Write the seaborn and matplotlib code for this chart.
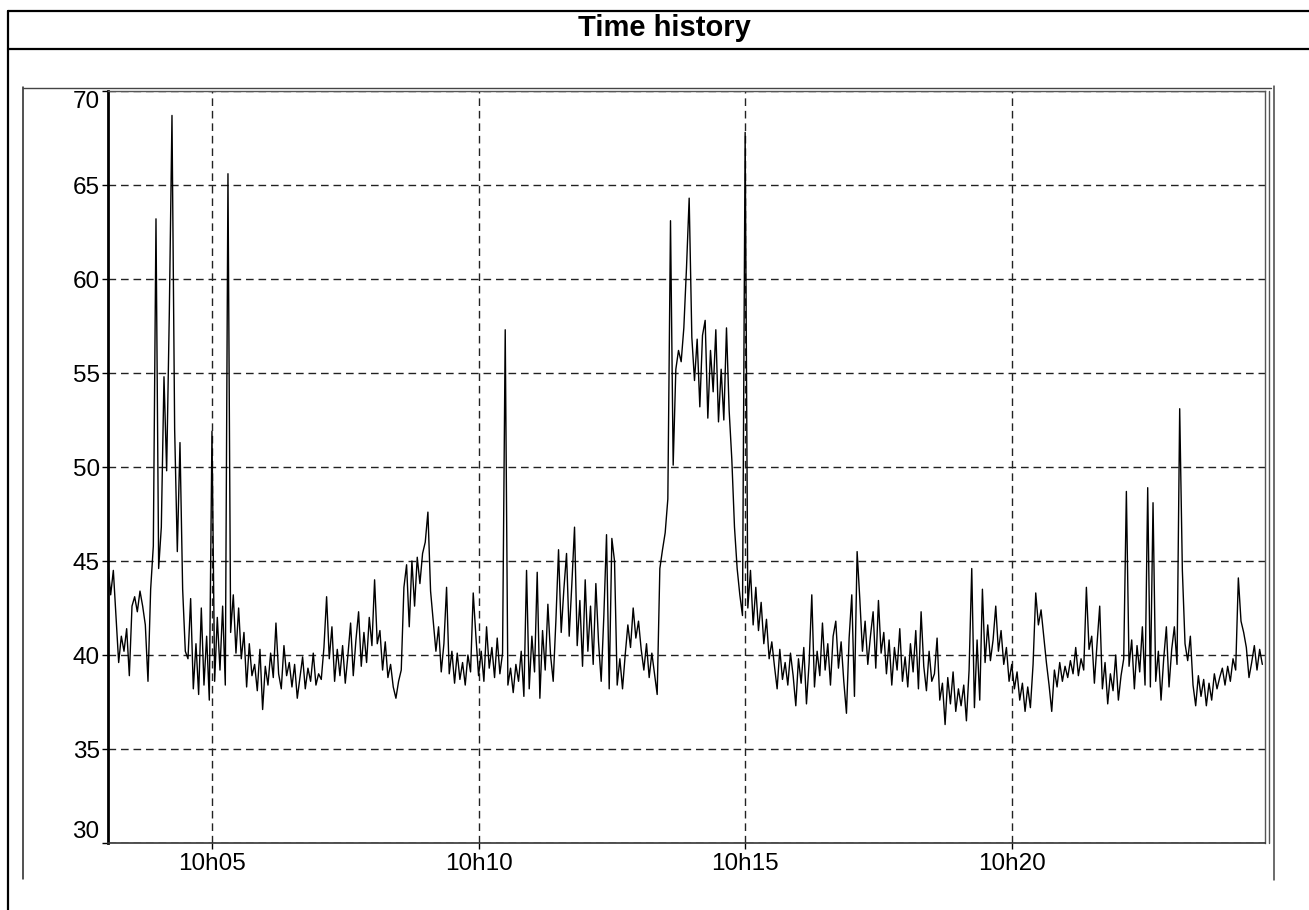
import numpy as np
import pandas as pd
import matplotlib
matplotlib.use('Agg')
import matplotlib.pyplot as plt
import matplotlib.dates as mdates
from matplotlib.lines import Line2D
import seaborn as sns

# levels: one value every 3 s, one row = 30 s
start = '2024-01-01 10:03:03'
step = '3s'
levels = [
    44.8, 43.2, 44.5, 42.1, 39.6, 41.0, 40.2, 41.4, 38.9, 42.6,
    43.1, 42.3, 43.4, 42.6, 41.6, 38.6, 43.5, 45.8, 63.2, 44.6,
    46.8, 54.8, 49.8, 58.2, 68.7, 52.0, 45.5, 51.3, 43.5, 40.2,
    39.8, 43.0, 38.2, 40.6, 37.9, 42.5, 38.4, 41.0, 37.6, 51.9,
    38.6, 42.0, 39.2, 42.6, 38.4, 65.6, 41.2, 43.2, 40.1, 42.5,
    39.8, 41.2, 38.3, 40.6, 38.9, 39.5, 38.1, 40.3, 37.1, 39.4,
    38.4, 40.1, 38.8, 41.7, 39.0, 38.2, 40.5, 38.9, 39.6, 38.3,
    39.5, 37.7, 38.8, 39.9, 38.2, 39.3, 38.6, 40.1, 38.4, 39.0,
    38.7, 40.4, 43.1, 39.8, 41.5, 38.6, 40.3, 38.9, 40.5, 38.5,
    40.0, 41.7, 38.9, 40.8, 42.3, 39.4, 41.2, 39.6, 42.0, 40.5,
    44.0, 40.6, 41.3, 39.2, 40.7, 38.8, 39.5, 38.3, 37.7, 38.6,
    39.2, 43.6, 44.8, 41.5, 45.0, 42.6, 45.2, 43.8, 45.4, 46.0,
    47.6, 43.4, 41.8, 40.2, 41.5, 39.1, 40.6, 43.6, 39.0, 40.2,
    38.5, 40.1, 38.7, 39.6, 38.4, 40.0, 39.1, 43.3, 41.0, 38.9,
    40.2, 38.6, 41.5, 39.3, 40.4, 38.8, 40.9, 39.0, 40.1, 57.3,
    38.4, 39.3, 38.0, 39.5, 38.6, 40.2, 37.8, 44.5, 38.2, 41.0,
    39.1, 44.4, 37.7, 41.3, 39.2, 42.7, 40.0, 38.6, 41.8, 45.6,
    41.2, 43.5, 45.4, 41.0, 43.8, 46.8, 40.5, 42.9, 39.4, 44.0,
    40.2, 42.6, 39.5, 43.8, 40.7, 38.6, 42.1, 46.4, 38.2, 46.2,
    45.0, 38.4, 39.8, 38.2, 40.0, 41.6, 40.4, 42.5, 40.9, 41.8,
    40.3, 39.2, 40.6, 38.8, 40.1, 39.0, 37.9, 44.6, 45.6, 46.5,
    48.3, 63.1, 50.1, 55.2, 56.2, 55.6, 57.4, 60.6, 64.3, 56.9,
    54.6, 56.8, 53.2, 57.0, 57.8, 52.6, 56.2, 54.0, 57.3, 52.4,
    55.2, 52.5, 57.4, 53.0, 50.4, 46.8, 44.6, 43.2, 42.1, 67.8,
    42.5, 44.5, 41.6, 43.6, 41.3, 42.8, 40.6, 41.9, 39.8, 40.7,
    39.4, 38.2, 40.3, 38.7, 39.6, 38.4, 40.1, 38.9, 37.3, 39.8,
    38.5, 40.4, 37.4, 39.6, 43.2, 38.3, 40.2, 38.9, 41.7, 39.2,
    40.6, 38.4, 41.0, 41.8, 39.3, 40.7, 38.6, 36.9, 40.9, 43.2,
    37.8, 45.5, 43.0, 40.2, 41.8, 39.5, 41.0, 42.3, 39.3, 42.9,
    40.1, 41.2, 39.0, 40.8, 38.4, 40.4, 39.2, 41.4, 38.6, 39.9,
    38.3, 40.6, 39.1, 41.3, 38.2, 42.3, 39.4, 38.1, 40.2, 38.6,
    39.0, 40.9, 37.6, 38.5, 36.3, 38.8, 37.4, 39.1, 37.0, 38.2,
    37.3, 38.4, 36.5, 39.2, 44.6, 37.2, 40.8, 37.6, 43.5, 39.6,
    41.6, 39.7, 40.8, 42.6, 40.2, 41.3, 39.5, 40.4, 38.6, 39.5,
    38.2, 39.1, 37.6, 38.5, 37.0, 38.3, 37.2, 39.5, 43.3, 41.6,
    42.4, 41.0, 39.6, 38.4, 37.0, 39.2, 38.3, 39.6, 38.6, 39.4,
    38.8, 39.7, 39.0, 40.4, 38.9, 39.8, 39.2, 43.6, 40.3, 41.0,
    38.5, 40.6, 42.6, 38.2, 39.6, 37.4, 39.0, 38.1, 40.0, 37.6,
    38.9, 39.8, 48.7, 39.4, 40.8, 38.2, 40.5, 39.1, 41.5, 38.4,
    48.9, 38.3, 48.1, 38.6, 40.2, 37.6, 39.8, 41.5, 38.3, 40.3,
    41.5, 39.5, 53.1, 44.5, 40.6, 39.7, 41.0, 38.4, 37.3, 38.9,
    37.8, 38.7, 37.3, 38.5, 37.6, 39.0, 38.2, 38.8, 39.3, 38.4,
    39.4, 38.6, 39.8, 39.2, 44.1, 41.8, 41.2, 40.4, 38.8, 39.6,
    40.5, 39.2, 40.3, 39.5,
]
y_ticks = [30, 35, 40, 45, 50, 55, 60, 65, 70]
x_ticks = ['10:05', '10:10', '10:15', '10:20']
x_range = ['10:03:03', '10:24:45']
title = 'Time history'

times = pd.date_range(start, periods=len(levels), freq=step)
df = pd.DataFrame({'time': times, 'level': levels})

sns.set_style('white')
plt.rcParams['font.family'] = ['Liberation Sans', 'DejaVu Sans']
plt.rcParams['text.color'] = 'black'

W, H = 1309, 910
fig = plt.figure(figsize=(W / 100, H / 100), dpi=100)


def fline(xs, ys, lw=1.5, color='black'):
    # draw a line in figure pixel coords (y from top)
    fig.add_artist(Line2D([x / W for x in xs], [1 - y / H for y in ys],
                          transform=fig.transFigure, color=color, lw=lw))


# outer frame and header
fline([8, W], [11, 11], lw=1.6)
fline([8, 8], [11, H], lw=1.6)
fline([8, W], [49, 49], lw=1.6)
fig.text(664 / W, 1 - 36 / H, title, ha='center', va='baseline',
         fontsize=21, fontweight='bold', color='black')

# inner box around the plot
fline([23, 23], [87, 879], lw=1.1, color='#222222')
fline([23, 1271], [87.5, 87.5], lw=1.0, color='#444444')
fline([1273.5, 1273.5], [86, 880], lw=1.1, color='#444444')
fline([1268.5, 1268.5], [91, 843], lw=1.0, color='#555555')

ax = fig.add_axes([108 / W, 1 - 843 / H, (1265 - 108) / W, (843 - 91) / H])
sns.lineplot(data=df, x='time', y='level', ax=ax, color='black',
             linewidth=1.0, estimator=None)

day = start.split(' ')[0]
ax.set_xlim(pd.Timestamp(day + ' ' + x_range[0]), pd.Timestamp(day + ' ' + x_range[1]))
ax.set_ylim(y_ticks[0], y_ticks[-1])
ax.set_xticks([pd.Timestamp(day + ' ' + t) for t in x_ticks])
ax.set_yticks(y_ticks)
ax.xaxis.set_major_formatter(mdates.DateFormatter('%Hh%M'))
ax.set_xlabel('')
ax.set_ylabel('')

ax.grid(True, linestyle=(0, (5.5, 3.5)), color='#222222', linewidth=1.0)
ax.set_axisbelow(True)

ax.tick_params(axis='both', which='major', labelsize=17.5, colors='black',
               length=4.5, width=1.0, direction='out')
ax.tick_params(axis='y', pad=1.5, left=True)
ax.tick_params(axis='x', pad=3, bottom=True)

ylabels = ax.get_yticklabels()
ylabels[0].set_va('bottom')
ylabels[-1].set_va('top')

ax.spines['left'].set_linewidth(2.0)
ax.spines['left'].set_color('black')
ax.spines['bottom'].set_linewidth(1.2)
ax.spines['bottom'].set_color('#333333')
ax.spines['top'].set_linewidth(1.0)
ax.spines['top'].set_color('#555555')
ax.spines['right'].set_linewidth(1.0)
ax.spines['right'].set_color('#555555')

fig.savefig('out.png', dpi=100)
